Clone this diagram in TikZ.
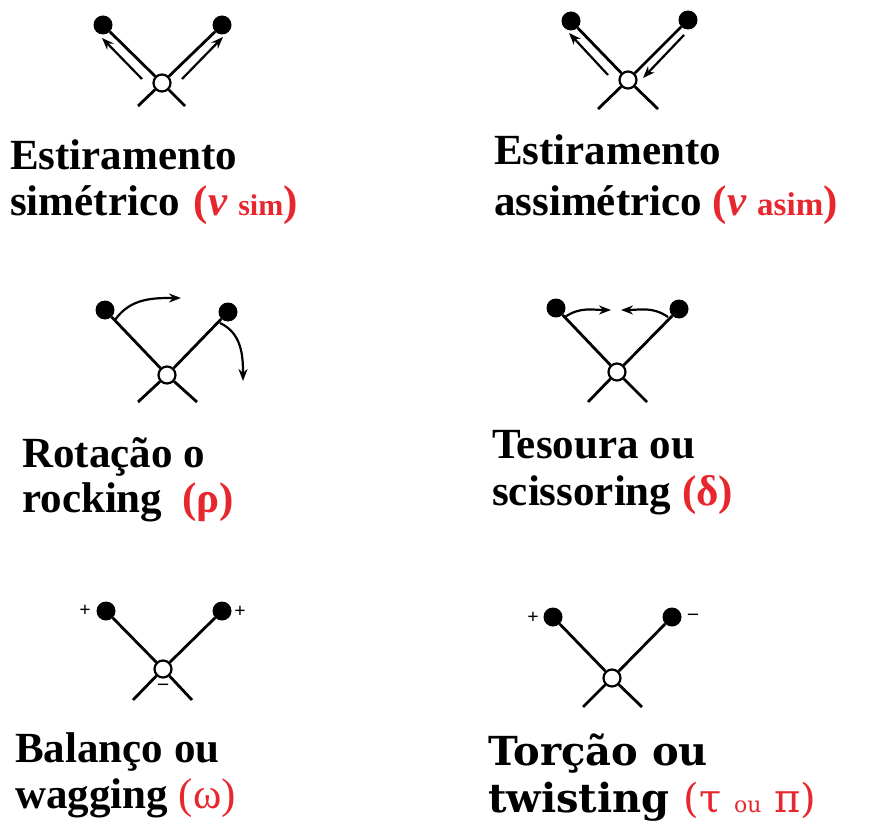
\documentclass[tikz,border=0pt]{standalone}
\usepackage{fontspec}
\setmainfont{Liberation Serif}
\newfontfamily\wideserif{DejaVu Serif}
\usetikzlibrary{arrows.meta, positioning}
\definecolor{modered}{RGB}{232,38,45}

\tikzstyle{atom} = [circle, fill=black, inner sep=0pt, minimum size=19pt]
\tikzstyle{carbon} = [circle, draw=black, fill=white, line width=2.2pt, inner sep=0pt, minimum size=17pt]
\tikzstyle{bond} = [line width=2.8pt]
\tikzstyle{motion} = [line width=2.2pt,-{Stealth[length=12pt,width=9pt]}]
\tikzstyle{modename} = [anchor=base west, inner sep=0pt, font=\bfseries\fontsize{43}{48}\selectfont]
\tikzstyle{charge} = [inner sep=0pt, font=\bfseries\fontsize{20}{20}\selectfont]
\newcommand{\redpart}[1]{\textcolor{modered}{#1}}

\begin{document}
\begin{tikzpicture}[x=1pt, y=-1pt]
\useasboundingbox (0,0) rectangle (869,826);

% Symmetric stretch
\node (c1) [carbon] at (162,83) {};
\node (a1l) [atom] at (103,25) {};
\node (a1r) [atom] at (222,25) {};
\coordinate (c1-ll) at (138,106);
\coordinate (c1-lr) at (185,106);
\coordinate (m1l-from) at (142,79);
\coordinate (m1l-to) at (102,38);
\coordinate (m1r-from) at (182,79);
\coordinate (m1r-to) at (223,37);

% Asymmetric stretch
\node (c2) [carbon] at (628,80) {};
\node (a2l) [atom] at (571,21) {};
\node (a2r) [atom] at (688,20) {};
\coordinate (c2-ll) at (598,109);
\coordinate (c2-lr) at (658,109);
\coordinate (m2l-from) at (608,75);
\coordinate (m2l-to) at (569,33);
\coordinate (m2r-from) at (684,35);
\coordinate (m2r-to) at (643,78);

% Rocking
\node (c3) [carbon] at (167,375) {};
\node (a3l) [atom] at (105,310) {};
\node (a3r) [atom] at (228,312) {};
\coordinate (c3-ll) at (138,402);
\coordinate (c3-lr) at (197,402);
\coordinate (m3l-from) at (115,320);
\coordinate (m3l-to) at (181,298);
\coordinate (m3r-from) at (220,323);
\coordinate (m3r-to) at (243,381);

% Scissoring
\node (c4) [carbon] at (617,372) {};
\node (a4l) [atom] at (556,308) {};
\node (a4r) [atom] at (679,309) {};
\coordinate (c4-ll) at (588,402);
\coordinate (c4-lr) at (647,402);
\coordinate (m4l-from) at (565,317);
\coordinate (m4l-to) at (611,310);
\coordinate (m4r-from) at (668,317);
\coordinate (m4r-to) at (621,310);

% Wagging
\node (c5) [carbon] at (163,669) {};
\node (a5l) [atom] at (106,611) {};
\node (a5r) [atom] at (222,611) {};
\coordinate (c5-ll) at (133,700);
\coordinate (c5-lr) at (192,700);
\node (q5l) [charge] at (85,611) {+};
\node (q5r) [charge] at (240,612) {+};
\node (q5c) [charge] at (163,687) {–};

% Twisting
\node (c6) [carbon] at (612,678) {};
\node (a6l) [atom] at (553,617) {};
\node (a6r) [atom] at (672,617) {};
\coordinate (c6-ll) at (583,707);
\coordinate (c6-lr) at (642,707);
\node (q6l) [charge] at (533,618) {+};
\node (q6r) [charge] at (693,617) {–};

% Bonds
\foreach \i in {1,...,6} {
  \draw [bond] (c\i) -- (a\i l);
  \draw [bond] (c\i) -- (a\i r);
  \draw [bond] (c\i) -- (c\i-ll);
  \draw [bond] (c\i) -- (c\i-lr);
}

% Motion arrows
\draw [motion] (m1l-from) -- (m1l-to);
\draw [motion] (m1r-from) -- (m1r-to);
\draw [motion] (m2l-from) -- (m2l-to);
\draw [motion] (m2r-from) -- (m2r-to);
\draw [motion] (m3l-from) to[out=55, in=180] (m3l-to);
\draw [motion] (m3r-from) to[out=-25, in=90] (m3r-to);
\draw [motion] (m4l-from) to[out=35, in=180] (m4l-to);
\draw [motion] (m4r-from) to[out=145, in=0] (m4r-to);

% Mode names
\node (n1a) [modename] at (10,170) {Estiramento};
\node (n1b) [modename] at (10,215) {simétrico\hspace{14pt}\redpart{(\textit{ν} {\fontsize{30}{30}\selectfont sim})}};
\node (n2a) [modename] at (494,165) {Estiramento};
\node (n2b) [modename] at (494,215) {assimétrico \redpart{(\textit{ν} {\fontsize{33}{33}\selectfont asim})}};
\node (n3a) [modename] at (22,467) {Rotação o};
\node (n3b) [modename] at (22,512) {rocking\hspace{20pt}\redpart{(ρ)}};
\node (n4a) [modename] at (492,458) {Tesoura ou};
\node (n4b) [modename] at (492,505) {scissoring \redpart{(δ)}};
\node (n5a) [modename] at (15,762) {Balanço ou};
\node (n5b) [modename] at (15,808) {wagging \redpart{\mdseries(ω)}};
\node (n6a) [modename, font=\wideserif\bfseries\fontsize{40}{46}\selectfont] at (488,765) {Torção ou};
\node (n6b) [modename, font=\wideserif\bfseries\fontsize{40}{46}\selectfont] at (488,812) {twisting\hspace{14pt}\redpart{\mdseries(τ {\fontsize{22}{22}\selectfont ou} π)}};

\end{tikzpicture}
\end{document}
